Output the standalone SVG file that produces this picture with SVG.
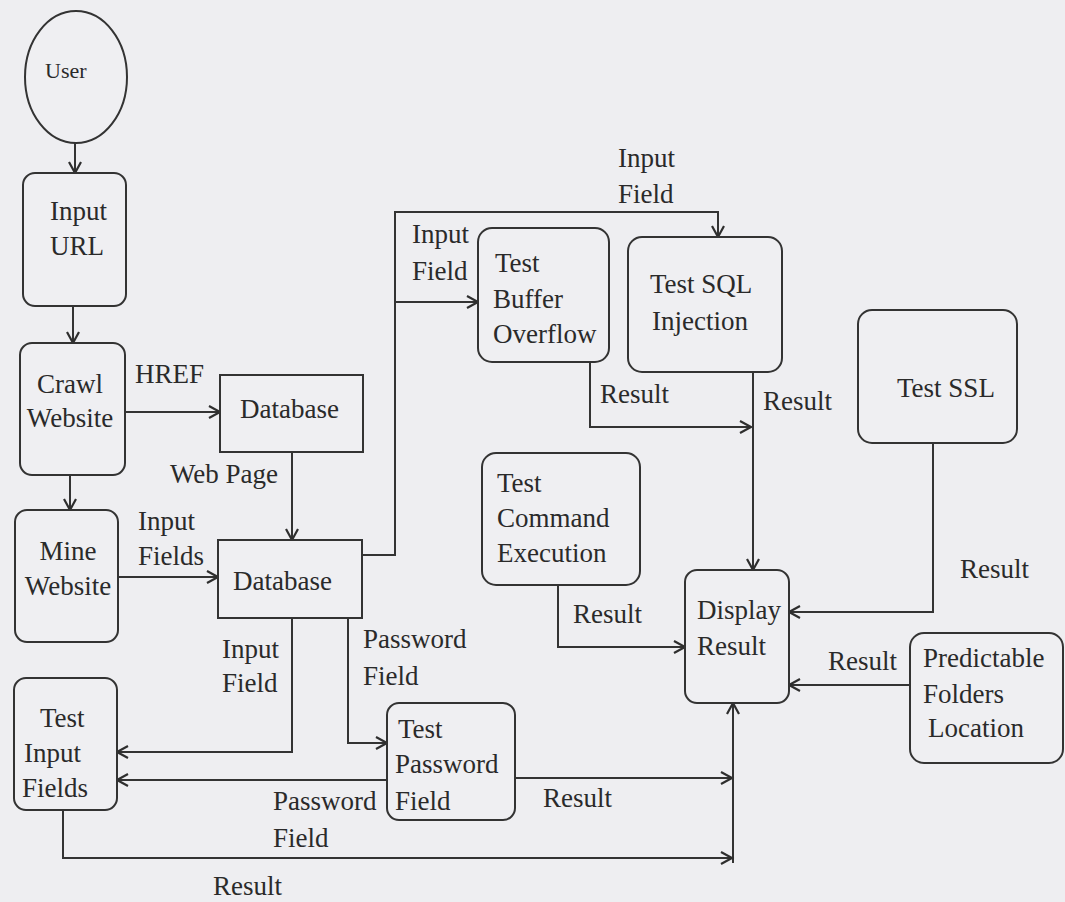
<svg xmlns="http://www.w3.org/2000/svg" width="1065" height="902" viewBox="0 0 1065 902" font-family="'Liberation Serif', 'DejaVu Serif', serif" font-size="27">
<defs>
<marker id="arr" markerUnits="userSpaceOnUse" markerWidth="16" markerHeight="16" refX="12" refY="7" orient="auto">
<path d="M1,1 L12,7 L1,13" fill="none" stroke="#2e2e2e" stroke-width="2.2"/>
</marker>
</defs>
<style>
.bg{fill:#eeeef1}
.box{fill:#efeff2;stroke:#333;stroke-width:2}
.db{fill:#efeff2;stroke:#333;stroke-width:2}
.ln{fill:none;stroke:#333;stroke-width:2}
.arw{fill:none;stroke:#333;stroke-width:2;marker-end:url(#arr)}
text{fill:#2a2a2a}
.sm{font-size:22px}
.mid{text-anchor:middle}
</style>
<rect class="bg" x="0" y="0" width="1065" height="902"/>

<g id="connectors">
<path class="arw" d="M75,143 L75,173"/>
<path class="arw" d="M73,306 L73,343"/>
<path class="arw" d="M70,475 L70,510"/>
<path class="arw" d="M125,412 L220,412"/>
<path class="arw" d="M292,452 L292,540"/>
<path class="arw" d="M118,577 L218,577"/>
<path class="arw" d="M362,555 L395,555 L395,212 L718,212 L718,237"/>
<path class="arw" d="M395,302 L478,302"/>
<path class="arw" d="M590,362 L590,427 L751,427"/>
<path class="arw" d="M753,372 L753,570"/>
<path class="arw" d="M933,443 L933,612 L789,612"/>
<path class="arw" d="M910,685 L789,685"/>
<path class="arw" d="M558,585 L558,647 L685,647"/>
<path class="arw" d="M292,618 L292,752 L117,752"/>
<path class="arw" d="M348,618 L348,743 L387,743"/>
<path class="arw" d="M387,780 L117,780"/>
<path class="arw" d="M515,778 L732,778"/>
<path class="arw" d="M733,863 L733,703"/>
<path class="arw" d="M63,810 L63,858 L732,858"/>
<text x="135" y="383">HREF</text>
<text x="170" y="483">Web Page</text>
<text x="138" y="530">Input</text>
<text x="138" y="565">Fields</text>
<text x="222" y="658">Input</text>
<text x="222" y="692">Field</text>
<text x="363" y="648">Password</text>
<text x="363" y="685">Field</text>
<text x="273" y="810">Password</text>
<text x="273" y="847">Field</text>
<text x="213" y="895">Result</text>
<text x="412" y="243">Input</text>
<text x="412" y="280">Field</text>
<text x="618" y="167">Input</text>
<text x="618" y="203">Field</text>
<text x="600" y="403">Result</text>
<text x="763" y="410">Result</text>
<text x="960" y="578">Result</text>
<text x="828" y="670">Result</text>
<text x="573" y="623">Result</text>
<text x="543" y="807">Result</text>
</g>

<g id="user">
<ellipse class="box" cx="76" cy="77" rx="51" ry="66"/>
<text class="sm" x="45" y="78">User</text>
</g>
<g id="input-url">
<rect class="box" x="23" y="173" width="103" height="133" rx="12"/>
<text x="50" y="220">Input</text>
<text x="50" y="255">URL</text>
</g>
<g id="crawl-website">
<rect class="box" x="20" y="343" width="105" height="132" rx="12"/>
<text class="mid" x="70" y="393">Crawl</text>
<text class="mid" x="70" y="427">Website</text>
</g>
<g id="mine-website">
<rect class="box" x="15" y="510" width="103" height="132" rx="12"/>
<text class="mid" x="68" y="560">Mine</text>
<text class="mid" x="68" y="595">Website</text>
</g>
<g id="database-1">
<rect class="db" x="220" y="375" width="143" height="77"/>
<text x="240" y="418">Database</text>
</g>
<g id="database-2">
<rect class="db" x="218" y="540" width="144" height="78"/>
<text x="233" y="590">Database</text>
</g>
<g id="test-input-fields">
<rect class="box" x="14" y="678" width="103" height="132" rx="12"/>
<text x="40" y="727">Test</text>
<text x="24" y="762">Input</text>
<text x="22" y="797">Fields</text>
</g>
<g id="test-password-field">
<rect class="box" x="387" y="703" width="128" height="117" rx="12"/>
<text x="398" y="738">Test</text>
<text x="395" y="773">Password</text>
<text x="395" y="810">Field</text>
</g>
<g id="test-buffer-overflow">
<rect class="box" x="478" y="228" width="131" height="134" rx="14"/>
<text x="495" y="272">Test</text>
<text x="493" y="308">Buffer</text>
<text x="493" y="343">Overflow</text>
</g>
<g id="test-sql-injection">
<rect class="box" x="628" y="237" width="154" height="135" rx="14"/>
<text x="650" y="293">Test SQL</text>
<text x="652" y="330">Injection</text>
</g>
<g id="test-ssl">
<rect class="box" x="858" y="310" width="159" height="133" rx="14"/>
<text x="897" y="397">Test SSL</text>
</g>
<g id="test-command-execution">
<rect class="box" x="482" y="453" width="158" height="132" rx="14"/>
<text x="497" y="492">Test</text>
<text x="497" y="527">Command</text>
<text x="497" y="562">Execution</text>
</g>
<g id="display-result">
<rect class="box" x="685" y="570" width="104" height="133" rx="12"/>
<text x="697" y="619">Display</text>
<text x="697" y="655">Result</text>
</g>
<g id="predictable-folders-location">
<rect class="box" x="910" y="633" width="153" height="130" rx="14"/>
<text x="923" y="667">Predictable</text>
<text x="923" y="703">Folders</text>
<text x="928" y="737">Location</text>
</g>
</svg>
